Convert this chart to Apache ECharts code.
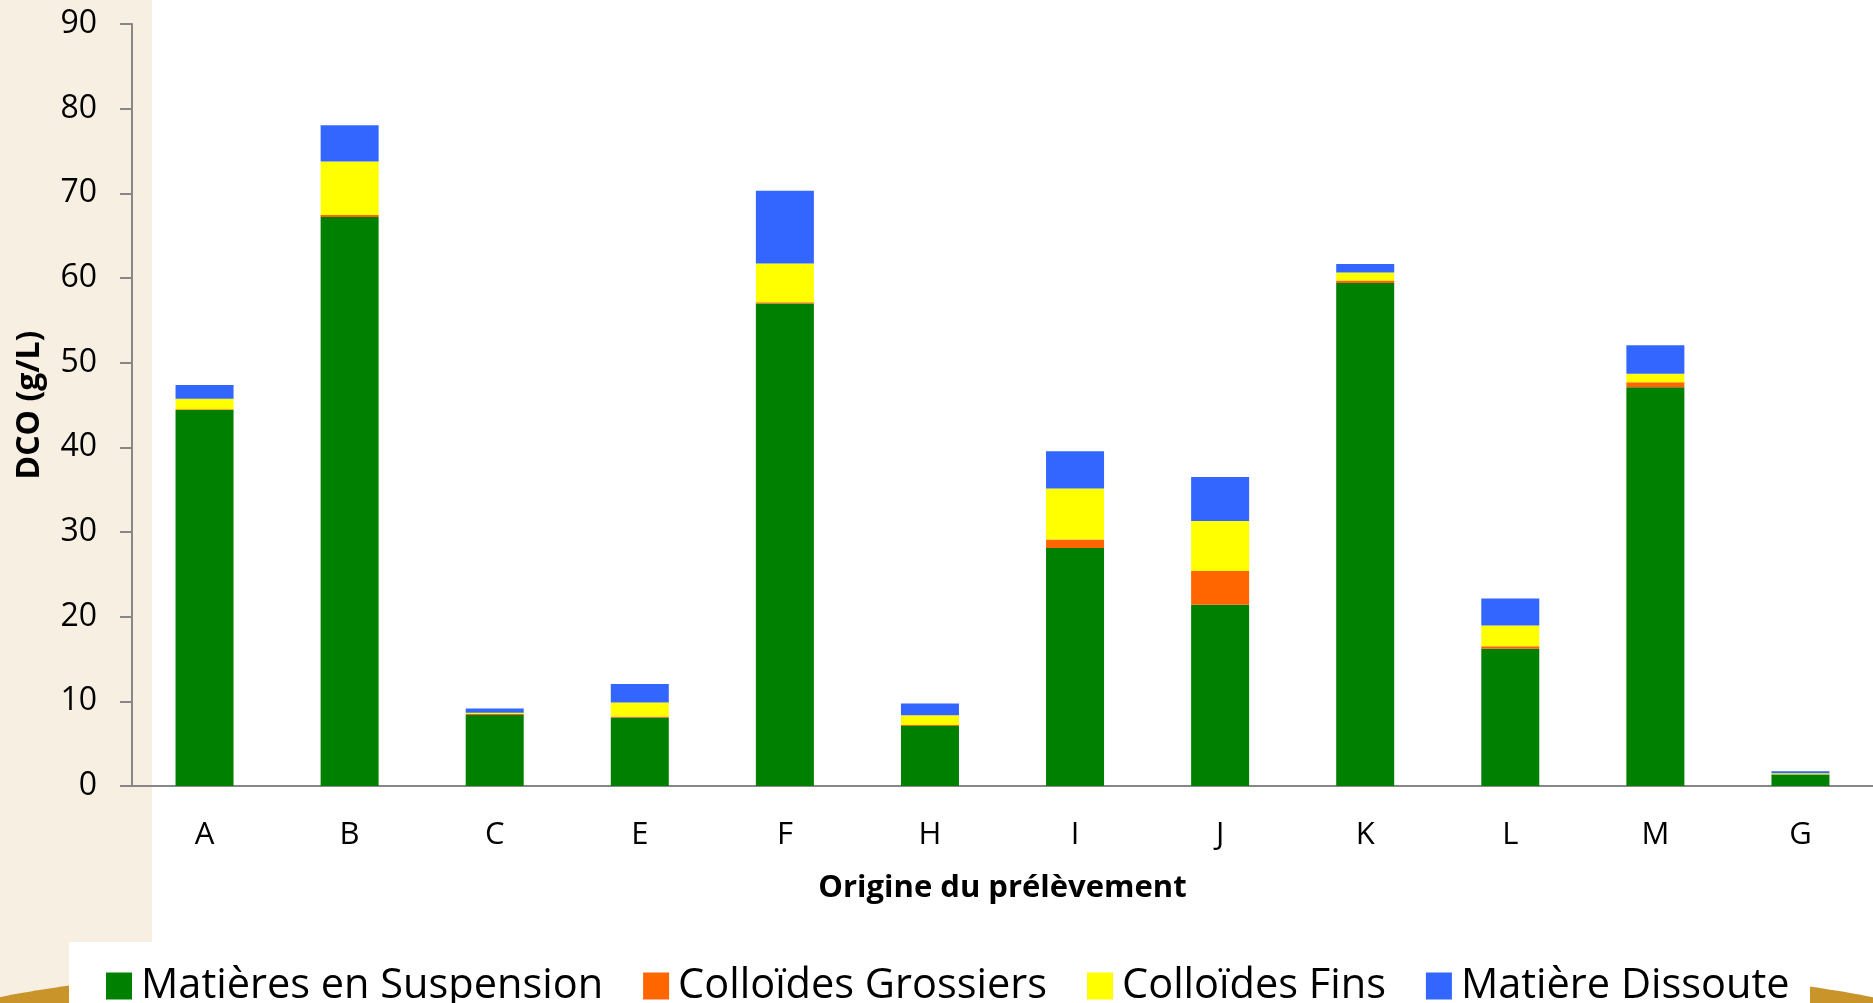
<!DOCTYPE html>
<html>
<head>
<meta charset="utf-8">
<script src="https://cdn.jsdelivr.net/npm/echarts@6/dist/echarts.min.js"></script>
<style>
html,body{margin:0;padding:0;background:#fff;}
#c{width:1873px;height:1003px;}
</style>
</head>
<body>
<div id="c"></div>
<script>
const categories = ['A','B','C','E','F','H','I','J','K','L','M','G'];
const matieresSuspension = [44.4, 67.2, 8.4, 8.1, 57.0, 7.1, 28.1, 21.4, 59.4, 16.2, 47.1, 1.35];
const colloidesGrossiers = [0.1, 0.25, 0.1, 0.1, 0.15, 0.1, 1.0, 4.0, 0.3, 0.3, 0.6, 0.05];
const colloidesFins     = [1.25, 6.3, 0.15, 1.65, 4.55, 1.15, 6.05, 5.9, 0.95, 2.45, 1.0, 0.1];
const matiereDissoute   = [1.6, 4.3, 0.5, 2.2, 8.6, 1.4, 4.4, 5.2, 1.0, 3.2, 3.35, 0.25];
const seriesNames = ['Matières en Suspension','Colloïdes Grossiers','Colloïdes Fins','Matière Dissoute'];
const seriesColors = ['#008000','#FF6600','#FFFF00','#3366FF'];
const yTicks = [0,10,20,30,40,50,60,70,80,90];

const FONT = '"Open Sans", "Noto Sans", sans-serif';
const chart = echarts.init(document.getElementById('c'), null, {renderer:'canvas'});
const dataSets = [matieresSuspension, colloidesGrossiers, colloidesFins, matiereDissoute];

chart.setOption({
  animation: false,
  textStyle: {fontFamily: FONT},
  graphic: [
    {type:'rect', z:-10, silent:true, shape:{x:0,y:0,width:152,height:1003}, style:{fill:'#F7EFE2'}},
    {type:'ellipse', z:-9, silent:true, shape:{cx:936, cy:1025, rx:1000, ry:79}, style:{fill:'#C9952B'}},
    {type:'rect', z:-8, silent:true, shape:{x:69,y:942,width:1741,height:61}, style:{fill:'#FFFFFF'}}
  ],
  grid: {left:132, top:24, width:1746, height:762, containLabel:false},
  legend: {
    left: 101, top: 960,
    itemWidth: 26, itemHeight: 27, itemGap: 40,
    icon: 'rect',
    textStyle: {fontFamily: FONT, fontSize: 41.5, color:'#000', padding:[0,0,0,4]},
    data: seriesNames
  },
  xAxis: {
    type: 'category',
    data: categories,
    name: 'Origine du prélèvement',
    nameLocation: 'middle',
    nameGap: 87,
    nameTextStyle: {fontFamily: FONT, fontSize: 31, fontWeight:'bold', color:'#000'},
    axisLine: {lineStyle:{color:'#878787', width:2}},
    axisTick: {length: 11, lineStyle:{color:'#878787', width:2}},
    axisLabel: {fontFamily: FONT, fontSize: 31, color:'#000', margin: 34}
  },
  yAxis: {
    type: 'value',
    min: 0, max: 90, interval: 10,
    name: 'DCO (g/L)',
    nameLocation: 'middle',
    nameGap: 86,
    nameRotate: 90,
    nameTextStyle: {fontFamily: FONT, fontSize: 32, fontWeight:'bold', color:'#000'},
    axisLine: {show:true, lineStyle:{color:'#878787', width:2}},
    axisTick: {show:true, length: 12, lineStyle:{color:'#878787', width:2}},
    axisLabel: {fontFamily: FONT, fontSize: 32, color:'#000', margin: 35,
      formatter: v => yTicks.includes(v) ? String(v) : ''},
    splitLine: {show:false}
  },
  series: seriesNames.map((n,i) => ({
    name: n,
    type: 'bar',
    stack: 'total',
    barWidth: 58,
    itemStyle: {color: seriesColors[i]},
    data: dataSets[i]
  }))
});
</script>
</body>
</html>
